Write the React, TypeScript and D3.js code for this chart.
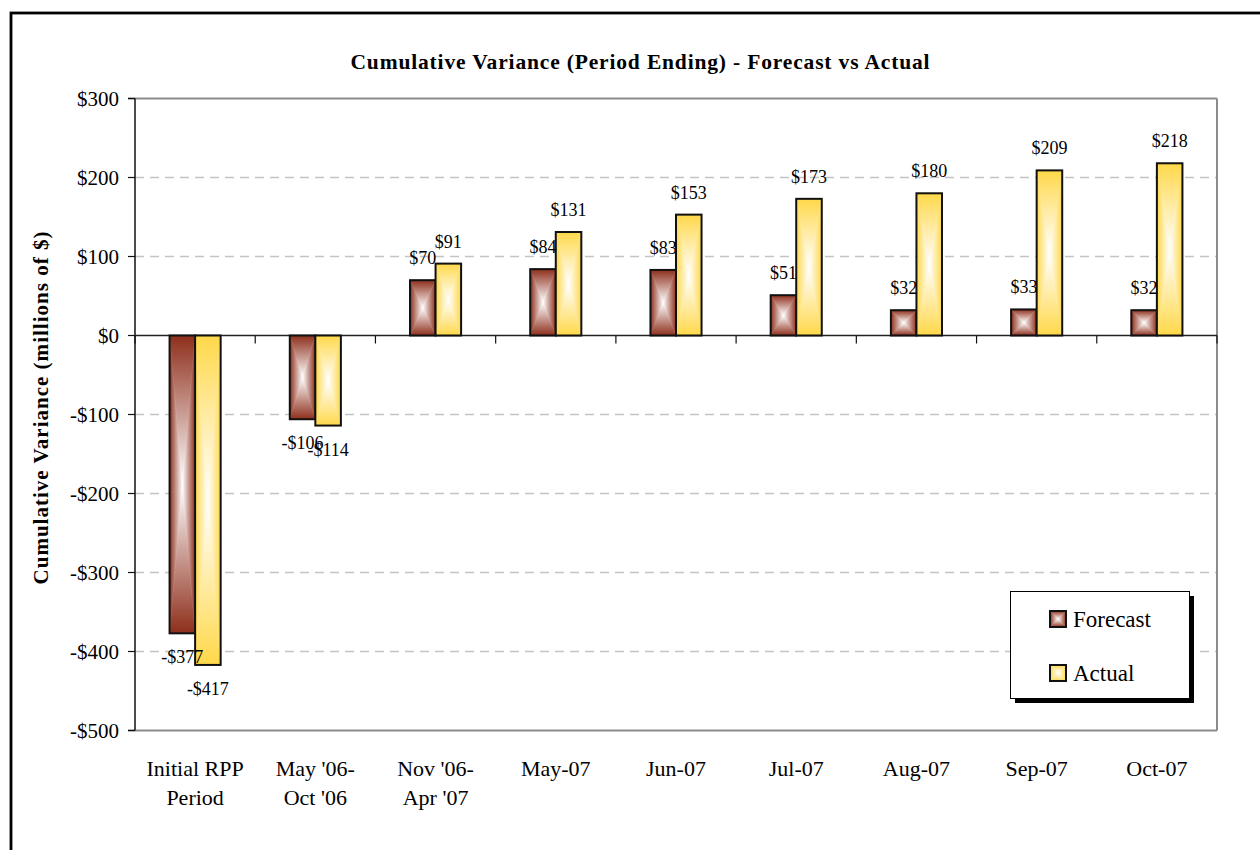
import React from 'react';
import * as d3 from 'd3';

// chart data
const categories = ['Initial RPP\nPeriod', "May '06-\nOct '06", "Nov '06-\nApr '07", 'May-07', 'Jun-07', 'Jul-07', 'Aug-07', 'Sep-07', 'Oct-07'];
const forecast = [-377, -106, 70, 84, 83, 51, 32, 33, 32];
const actual = [-417, -114, 91, 131, 153, 173, 180, 209, 218];
const seriesNames = ['Forecast', 'Actual'];
const yTicks = [300, 200, 100, 0, -100, -200, -300, -400, -500];

const FONT = '"Liberation Serif", "Times New Roman", serif';
const edgeColor: Record<string, string> = { Forecast: '#8e2f1c', Actual: '#ffd84a' };

const plot = { left: 135, right: 1217, top: 98.5, bottom: 730.5 };

const fmt = (v: number) => (v < 0 ? `-$${-v}` : `$${v}`);

// Excel style "from centre" rectangular gradient: four triangles fading to white
function GradBar({ x, y, w, h, k }: { x: number; y: number; w: number; h: number; k: string }) {
    const cx = x + w / 2;
    const cy = y + h / 2;
    const tris: [string, string][] = [
        ['t', `${x},${y} ${x + w},${y} ${cx},${cy}`],
        ['b', `${x},${y + h} ${x + w},${y + h} ${cx},${cy}`],
        ['l', `${x},${y} ${x},${y + h} ${cx},${cy}`],
        ['r', `${x + w},${y} ${x + w},${y + h} ${cx},${cy}`]
    ];
    return (
        <g>
            {tris.map(([d, pts]) => (
                <polygon key={d} points={pts} fill={`url(#${k}-${d})`} stroke={`url(#${k}-${d})`} strokeWidth={0.6} />
            ))}
            <rect x={x} y={y} width={w} height={h} fill="none" stroke="#111" strokeWidth={2} />
        </g>
    );
}

export default function App() {
    const x0 = d3.scaleBand<number>()
        .domain(d3.range(categories.length))
        .range([plot.left, plot.right])
        .paddingInner(0.575)
        .paddingOuter(0.2875);

    const x1 = d3.scaleBand<string>()
        .domain(seriesNames)
        .range([0, x0.bandwidth()]);

    const y = d3.scaleLinear()
        .domain([-500, 300])
        .range([plot.bottom, plot.top]);

    const step = x0.step();
    const data: Record<string, number[]> = { Forecast: forecast, Actual: actual };

    const dirs: [string, number, number, number, number][] = [
        ['t', 0, 0, 0, 1],
        ['b', 0, 1, 0, 0],
        ['l', 0, 0, 1, 0],
        ['r', 1, 0, 0, 0]
    ];

    const bars = seriesNames.flatMap((k) => data[k].map((v, i) => {
        const bx = (x0(i) ?? 0) + (x1(k) ?? 0);
        const w = x1.bandwidth();
        return { k, v, i, bx, w, top: y(Math.max(0, v)), h: Math.abs(y(v) - y(0)) };
    }));

    return (
        <svg width={1260} height={850} style={{ position: 'absolute', left: 0, top: 0, background: '#fff' }} fontFamily={FONT}>
            <defs>
                {seriesNames.flatMap((k) => dirs.map(([d, a, b, c, e]) => (
                    <linearGradient key={k + d} id={`${k}-${d}`} x1={a} y1={b} x2={c} y2={e}>
                        <stop offset="0" stopColor={edgeColor[k]} />
                        <stop offset="1" stopColor="#ffffff" />
                    </linearGradient>
                )))}
            </defs>

            {/* outer frame */}
            <rect x={11} y={13} width={1320} height={900} fill="#fff" stroke="#000" strokeWidth={2.8} />

            <text x={640} y={69} textAnchor="middle" fontWeight="bold" fontSize={21.5} textLength={579}>
                Cumulative Variance (Period Ending) - Forecast vs Actual
            </text>

            <text transform={`translate(48, 408) rotate(-90)`} textAnchor="middle" fontWeight="bold" fontSize={21} textLength={353}>
                Cumulative Variance (millions of $)
            </text>

            {/* grid */}
            {yTicks.filter((t) => t !== 300 && t !== 0 && t !== -500).map((t) => (
                <line key={t} x1={plot.left} x2={plot.right} y1={y(t)} y2={y(t)} stroke="#c4c4c4" strokeWidth={1.3} strokeDasharray="9,6" />
            ))}

            {/* plot border */}
            <line x1={128} x2={plot.right} y1={plot.top} y2={plot.top} stroke="#8c8c8c" strokeWidth={2} />
            <line x1={plot.right} x2={plot.right} y1={plot.top} y2={plot.bottom} stroke="#8c8c8c" strokeWidth={2} />
            <line x1={128} x2={plot.right} y1={plot.bottom} y2={plot.bottom} stroke="#8c8c8c" strokeWidth={2} />

            {/* y axis */}
            <line x1={plot.left} x2={plot.left} y1={plot.top} y2={plot.bottom} stroke="#111" strokeWidth={1.5} />
            {yTicks.map((t) => (
                <g key={t}>
                    <line x1={128} x2={plot.left} y1={y(t)} y2={y(t)} stroke="#111" strokeWidth={1.2} />
                    <text x={119} y={y(t)} dy="0.35em" textAnchor="end" fontSize={21}>{fmt(t)}</text>
                </g>
            ))}

            {/* zero line + category ticks */}
            <line x1={plot.left} x2={plot.right} y1={y(0)} y2={y(0)} stroke="#222" strokeWidth={1.3} />
            {d3.range(categories.length + 1).map((i) => (
                <line key={i} x1={plot.left + i * step} x2={plot.left + i * step} y1={y(0)} y2={y(0) + 8} stroke="#111" strokeWidth={1.2} />
            ))}

            {/* bars */}
            {bars.map((b) => (
                <GradBar key={b.k + b.i} x={b.bx} y={b.top} w={b.w} h={b.h} k={b.k} />
            ))}

            {/* data labels */}
            {bars.map((b) => (
                <text key={b.k + b.i} x={b.bx + b.w / 2} y={b.v >= 0 ? y(b.v) - 16 : y(b.v) + 30} textAnchor="middle" fontSize={18}>{fmt(b.v)}</text>
            ))}

            {/* category labels */}
            {categories.map((c, i) => (
                <text key={i} x={(x0(i) ?? 0) + x0.bandwidth() / 2} textAnchor="middle" fontSize={22}>
                    {c.split('\n').map((line, j) => (
                        <tspan key={j} x={(x0(i) ?? 0) + x0.bandwidth() / 2} y={776 + j * 29}>{line}</tspan>
                    ))}
                </text>
            ))}

            {/* legend */}
            <rect x={1015} y={596} width={179} height={107} fill="#000" />
            <rect x={1010.5} y={591.5} width={179} height={107} fill="#fff" stroke="#000" strokeWidth={1} />
            {seriesNames.map((k, i) => (
                <g key={k}>
                    <GradBar x={1050} y={611 + i * 54} w={16} h={16} k={k} />
                    <text x={1073} y={627 + i * 54} fontSize={23}>{k}</text>
                </g>
            ))}
        </svg>
    );
}
